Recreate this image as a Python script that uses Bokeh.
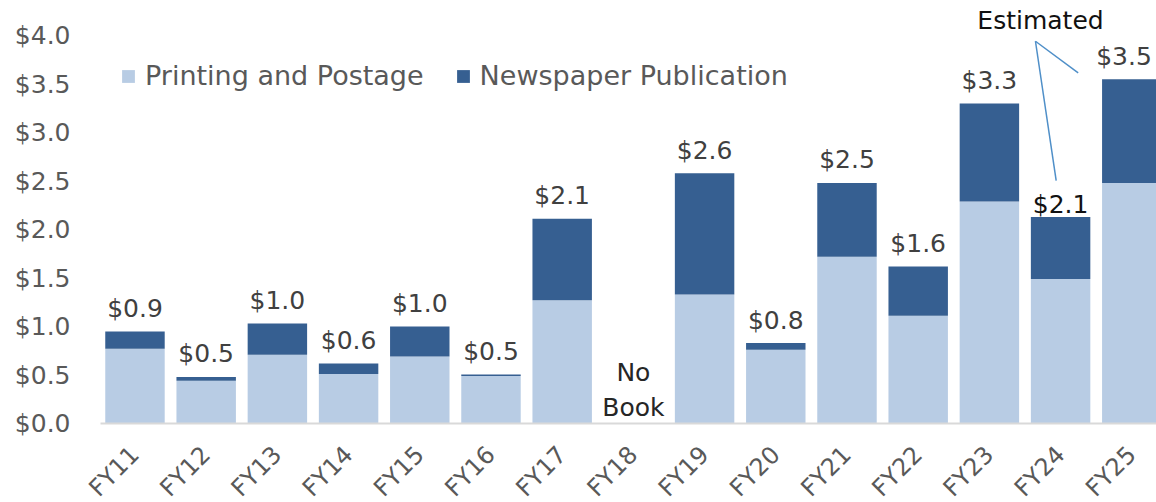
import math
from bokeh.plotting import figure
from bokeh.models import ColumnDataSource, FixedTicker, Legend, LegendItem
from bokeh.embed import file_html
from bokeh.resources import INLINE
from bokeh.core.properties import value

# ---- data ----
categories = ["FY11", "FY12", "FY13", "FY14", "FY15", "FY16", "FY17", "FY18",
              "FY19", "FY20", "FY21", "FY22", "FY23", "FY24", "FY25"]
printing_postage = [0.77, 0.44, 0.71, 0.51, 0.69, 0.49, 1.27, 0.0,
                    1.33, 0.76, 1.72, 1.11, 2.29, 1.49, 2.48]
newspaper_pub = [0.18, 0.04, 0.32, 0.11, 0.31, 0.015, 0.84, 0.0,
                 1.25, 0.07, 0.76, 0.51, 1.01, 0.64, 1.07]
total_labels = ["$0.9", "$0.5", "$1.0", "$0.6", "$1.0", "$0.5", "$2.1", "",
                "$2.6", "$0.8", "$2.5", "$1.6", "$3.3", "$2.1", "$3.5"]
y_ticks = [0.0, 0.5, 1.0, 1.5, 2.0, 2.5, 3.0, 3.5, 4.0]
y_tick_labels = ["$0.0", "$0.5", "$1.0", "$1.5", "$2.0", "$2.5", "$3.0", "$3.5", "$4.0"]
series_names = ["Printing and Postage", "Newspaper Publication"]
no_book_category = "FY18"
no_book_lines = ["No", "Book"]
estimated_text = "Estimated"
estimated_targets = ["FY24", "FY25"]

# ---- styles ----
LIGHT = "#B8CCE4"
DARK = "#365F91"
FONT = "DejaVu Sans"
AXIS_GRAY = "#595959"
LABEL_GRAY = "#404040"
PX = 97.0  # pixels per unit on the y scale (for label gaps)

xs = list(range(len(categories)))
totals = [a + b for a, b in zip(printing_postage, newspaper_pub)]
i24 = categories.index("FY24")
i25 = categories.index("FY25")
label_colors = [LABEL_GRAY] * len(categories)
label_colors[i24] = "#111111"
label_gap = [23 / PX] * len(categories)
label_gap[i24] = 12 / PX
label_y = [t + g for t, g in zip(totals, label_gap)]
label_dx = [0.0] * len(categories)
label_dx[i25] = -0.11
label_x = [x + d for x, d in zip(xs, label_dx)]

src = ColumnDataSource(dict(
    x=xs, cat=categories, printing=printing_postage, newspaper=newspaper_pub,
    total=totals, lbl=total_labels, lcol=label_colors, ly=label_y, lx=label_x,
))

X_AXIS_START = -0.485
X_END = 14.347
p = figure(width=1156, height=502, output_backend="svg", toolbar_location=None,
           x_range=(-0.709, X_END), y_range=(-0.814, 4.361),
           min_border_left=84, min_border_right=0, min_border_top=0,
           min_border_bottom=0)
p.outline_line_color = None
p.background_fill_color = "white"
p.border_fill_color = "white"
p.grid.grid_line_color = None

rs = p.vbar_stack(["printing", "newspaper"], x="x", width=0.835,
                  color=[LIGHT, DARK], line_color=None, source=src)

p.text(x="lx", y="ly", text="lbl", source=src, text_align="center",
       text_baseline="middle", text_color="lcol",
       text_font=value(FONT), text_font_size="25px")

# No Book text
nb = categories.index(no_book_category)
p.text(x=[xs[nb], xs[nb]], y=[51 / PX, 16 / PX], text=no_book_lines,
       text_align="center", text_baseline="middle", text_color="#262626",
       text_font=value(FONT), text_font_size="25px")

# Estimated annotation
ia = categories.index(estimated_targets[0])
ib = categories.index(estimated_targets[1])
ex = xs[ia] - 0.282
ey = 4.155
p.text(x=[ex], y=[ey], text=[estimated_text], text_align="center",
       text_baseline="middle", text_color="#111111",
       text_font=value(FONT), text_font_size="25px")
p.segment(x0=[ex - 0.071, ex - 0.071], y0=[ey - 0.214, ey - 0.214],
          x1=[xs[ia] - 0.062, xs[ib] - 0.753],
          y1=[totals[ia] + 0.375, totals[ib] + 0.065],
          line_color="#4F8FC8", line_width=1.5)

# axes
p.xaxis.fixed_location = 0
p.xaxis.bounds = (X_AXIS_START, X_END)
p.xaxis.ticker = FixedTicker(ticks=xs)
p.xaxis.major_label_overrides = {x: c for x, c in zip(xs, categories)}
p.xaxis.major_label_orientation = math.pi / 4
p.xaxis.major_label_text_font = FONT
p.xaxis.major_label_text_font_size = "24px"
p.xaxis.major_label_text_color = AXIS_GRAY
p.xaxis.major_label_standoff = 27
p.xaxis.major_tick_out = 0
p.xaxis.major_tick_in = 0
p.xaxis.minor_tick_line_color = None
p.xaxis.axis_line_color = "#D9D9D9"
p.xaxis.axis_line_width = 2

p.yaxis.ticker = FixedTicker(ticks=y_ticks)
p.yaxis.major_label_overrides = {t: l for t, l in zip(y_ticks, y_tick_labels)}
p.yaxis.major_label_text_font = FONT
p.yaxis.major_label_text_font_size = "25px"
p.yaxis.major_label_text_color = AXIS_GRAY
p.yaxis.major_label_standoff = 14
p.yaxis.major_tick_out = 0
p.yaxis.major_tick_in = 0
p.yaxis.minor_tick_line_color = None
p.yaxis.axis_line_color = None

legend = Legend(items=[LegendItem(label=series_names[0], renderers=[rs[0]]),
                       LegendItem(label=series_names[1], renderers=[rs[1]])],
                location=(36, 411), orientation="horizontal",
                glyph_width=16, glyph_height=16, label_standoff=9, spacing=31,
                padding=0, margin=0, background_fill_alpha=0,
                border_line_color=None,
                label_text_font=FONT, label_text_font_size="27px",
                label_text_color=AXIS_GRAY)
p.add_layout(legend)

open("out.html", "w").write(file_html(p, INLINE))
